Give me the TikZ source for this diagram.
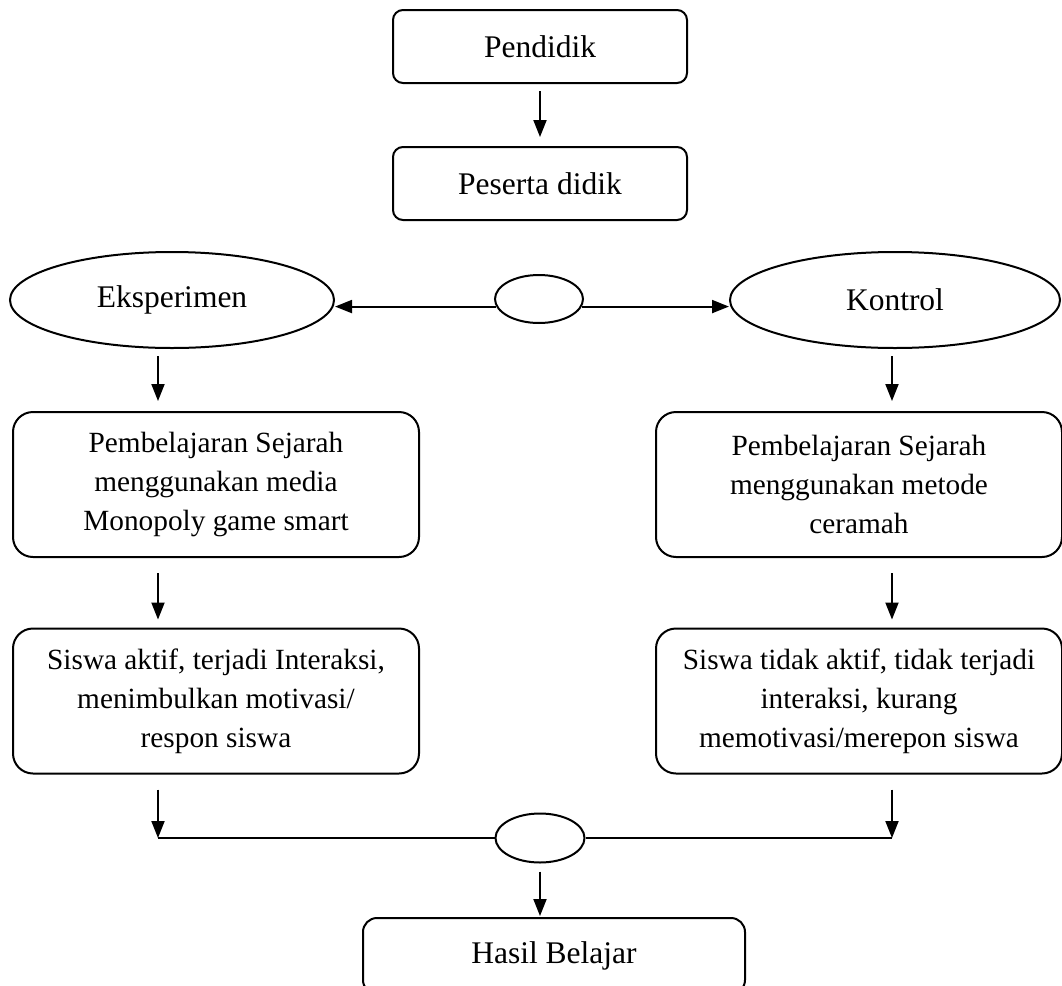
\documentclass[tikz,border=0pt]{standalone}
\usepackage{fontspec}
\setmainfont{Liberation Serif}
\usetikzlibrary{shapes.geometric, arrows.meta}

\begin{document}
\begin{tikzpicture} [x = 0.5pt, y = -0.5pt, line width = 1pt,
  kotak/.style = {draw, rounded corners = 5pt, align = center, inner sep = 0pt},
  elips/.style = {draw, ellipse, inner sep = 0pt},
  besar/.style = {font = \fontsize{15.75}{19}\selectfont},
  tahap/.style = {kotak, rounded corners = 10pt, minimum width = 203pt, minimum height = 72.5pt,
    font = \fontsize{14.65}{19.5}\selectfont},
  panah/.style = {-{Triangle[length = 8.5pt, width = 6.5pt]}}]
\useasboundingbox (0,0) rectangle (1062,986);
\coordinate (kiri) at (158,0);
\coordinate (kanan) at (892,0);
\node[kotak, besar, minimum width = 147pt, minimum height = 36.5pt] (pendidik) at (540,46.5) {Pendidik};
\node[kotak, besar, minimum width = 147pt, minimum height = 36.5pt] (peserta) at (540,183.5) {Peserta didik};
\node[elips, besar, minimum width = 162pt, minimum height = 48pt] (eksperimen) at (172,300) {Eksperimen};
\node[elips, minimum width = 44pt, minimum height = 24pt] (cabang) at (539,299) {};
\node[elips, besar, minimum width = 165pt, minimum height = 48pt] (kontrol) at (895,300) {Kontrol};
\node[tahap] (media) at (216,484.5) {Pembelajaran Sejarah\\ menggunakan media\\ Monopoly game smart};
\node[tahap] (metode) at (859,484.5) {Pembelajaran Sejarah\\ menggunakan metode\\ ceramah};
\node[tahap] (aktif) at (216,701) {Siswa aktif, terjadi Interaksi,\\ menimbulkan motivasi/\\ respon siswa};
\node[tahap] (pasif) at (859,701) {Siswa tidak aktif, tidak terjadi\\ interaksi, kurang\\ memotivasi/merepon siswa};
\node[elips, minimum width = 44.5pt, minimum height = 24.5pt] (gabung) at (540,838) {};
\node[kotak, besar, rounded corners = 7pt, minimum width = 191pt, minimum height = 38pt] (hasil) at (554,956) {Hasil Belajar};
\draw [panah, shorten <= 3.5pt, shorten >= 4.5pt] (pendidik) -- (peserta);
\draw [panah] (cabang.190) -- (cabang.190 -| eksperimen.east);
\draw [panah] (cabang.350) -- (cabang.350 -| kontrol.west);
\draw [panah, shorten <= 3.5pt, shorten >= 5pt] (eksperimen.south -| kiri) -- (media.north -| kiri);
\draw [panah, shorten <= 3.5pt, shorten >= 5pt] (kontrol.south -| kanan) -- (metode.north -| kanan);
\draw [panah, shorten <= 7.5pt, shorten >= 4pt] (media.south -| kiri) -- (aktif.north -| kiri);
\draw [panah, shorten <= 7.5pt, shorten >= 4pt] (metode.south -| kanan) -- (pasif.north -| kanan);
\draw [panah, shorten <= 7.5pt] (aktif.south -| kiri) -- (gabung.west -| kiri);
\draw [panah, shorten <= 7.5pt] (pasif.south -| kanan) -- (gabung.east -| kanan);
\draw (gabung.west -| kiri) -- (gabung.west);
\draw (gabung.east) -- (gabung.east -| kanan);
\draw [panah, shorten <= 4pt, shorten >= 0.5pt] (gabung.south) -- (gabung.south |- hasil.north);
\end{tikzpicture}
\end{document}
